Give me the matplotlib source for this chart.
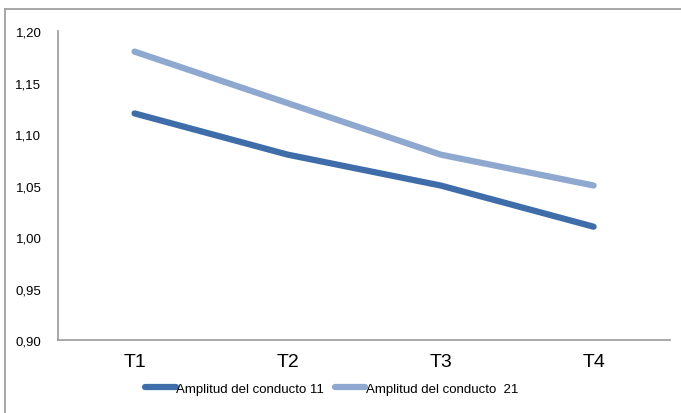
import matplotlib
matplotlib.use("Agg")
import matplotlib.pyplot as plt
from matplotlib.lines import Line2D
from matplotlib.ticker import FuncFormatter

categories = ["T1", "T2", "T3", "T4"]
serie_11 = [1.12, 1.08, 1.05, 1.01]
serie_21 = [1.18, 1.13, 1.08, 1.05]
labels = ["Amplitud del conducto 11", "Amplitud del conducto  21"]
colors = ["#3F6DA9", "#8EA8D0"]

plt.rcParams["font.family"] = ["Liberation Sans", "DejaVu Sans"]

fig = plt.figure(figsize=(6.81, 4.14), dpi=100)
ax = fig.add_axes([0.0852, 0.1763, 0.8988, 0.7464])

x = range(len(categories))
ax.plot(x, serie_11, color=colors[0], linewidth=4.5, solid_capstyle="round", label=labels[0])
ax.plot(x, serie_21, color=colors[1], linewidth=4.5, solid_capstyle="round", label=labels[1])

ax.set_xlim(-0.5, len(categories) - 0.5)
ax.set_ylim(0.90, 1.20)
ax.set_yticks([0.90, 0.95, 1.00, 1.05, 1.10, 1.15, 1.20])
ax.yaxis.set_major_formatter(FuncFormatter(lambda v, p: f"{v:.2f}".replace(".", ",")))
ax.set_xticks(list(x))
ax.set_xticklabels(categories, fontsize=14)
ax.tick_params(axis="y", length=0, pad=12, labelsize=9.5)
ax.tick_params(axis="x", length=0, pad=9)

for s in ["top", "right"]:
    ax.spines[s].set_visible(False)
for s in ["left", "bottom"]:
    ax.spines[s].set_color("#999999")
    ax.spines[s].set_linewidth(1.2)

leg = fig.legend(loc="center", bbox_to_anchor=(0.487, 0.058), ncol=2, frameon=False,
                 fontsize=9.5, handlelength=2.3, handletextpad=0.05, columnspacing=0.8)

# outer chart border (top and left visible)
fig.add_artist(Line2D([5 / 681, 1], [1 - 10 / 414, 1 - 10 / 414], color="#A0A0A0", linewidth=1.3))
fig.add_artist(Line2D([5 / 681, 5 / 681], [0, 1 - 10 / 414], color="#A0A0A0", linewidth=1.3))

fig.savefig("out.png", dpi=100)
